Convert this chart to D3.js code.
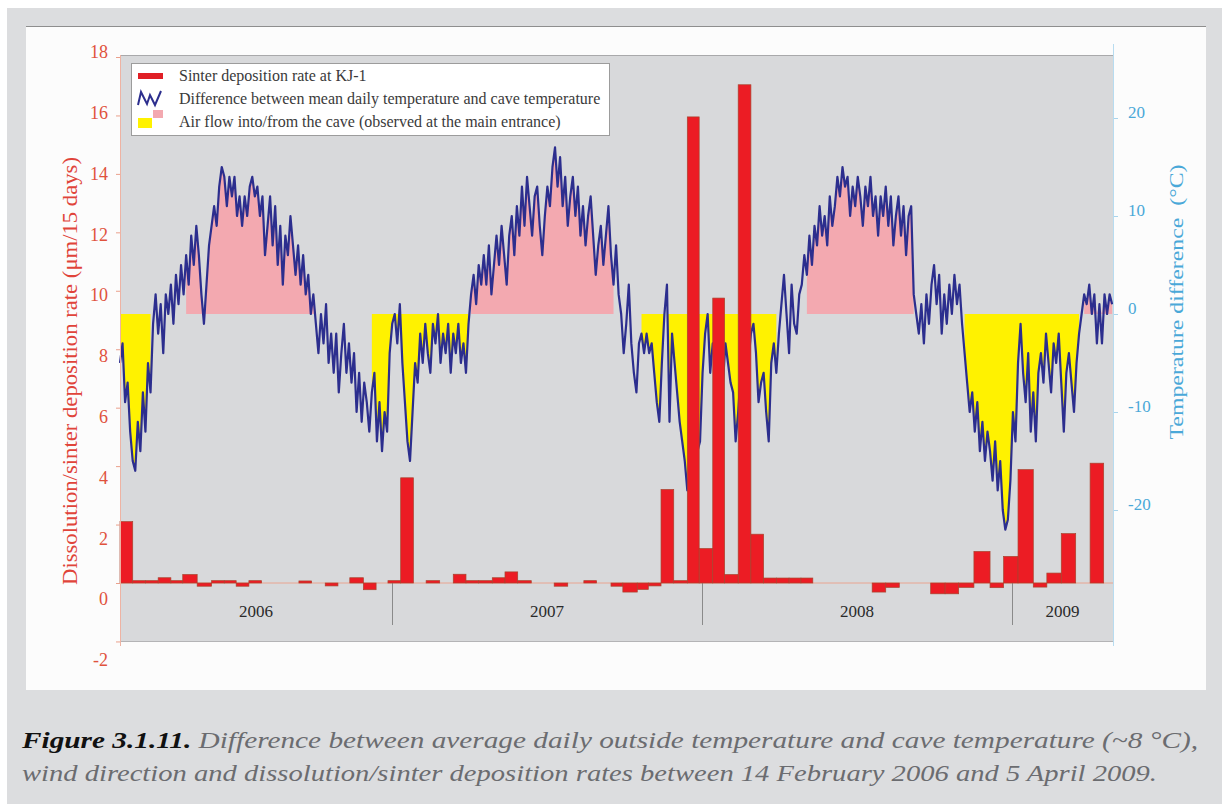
<!DOCTYPE html>
<html>
<head>
<meta charset="utf-8">
<script src="https://cdn.jsdelivr.net/npm/d3@7"></script>
<style>
body { margin: 0; background: #fff; }
svg { display: block; font-family: "Liberation Serif", "Times New Roman", serif; }
</style>
</head>
<body>
<svg width="1222" height="804"></svg>
<script>
// record runs from 14 Feb 2006, daily temperature difference read every 3 days
var startDate = "2006-02-14";
var endDate = "2009-04-30";
var tempStep = 3;
var tempValues = [
  -5,-3,-9,-7,-12,-15,-16,-11,-14,-8,
  -12,-5,-8,-1,2,-2,1,-4,2,0,
  3,-1,4,1,5,2,6,3,8,5,
  9,6,2,-1,3,7,9,11,9,13,
  15,14,11,14,12,14,10,12,9,12,
  10,13,14,12,13,10,12,6,9,12,
  7,11,5,9,3,8,6,10,7,4,
  7,3,6,2,4,0,2,-1,-4,0,
  -3,1,-5,-2,-6,-2,-8,-4,-1,-6,
  -3,-7,-4,-10,-6,-11,-7,-9,-12,-8,
  -6,-13,-9,-14,-10,-12,-4,
  -1,0,-3,1,-5,-9,-13,-15,-10,-5,
  -7,-2,-5,-1,-4,-6,-1,-3,0,-5,
  -2,-4,-1,-6,-2,-4,-1,-5,-3,-6,
  -1,2,4,1,5,3,6,3,7,2,
  5,8,5,9,6,3,8,10,6,11,
  8,13,9,14,11,8,12,13,9,6,
  10,13,11,15,17,13,16,11,14,9,
  12,14,10,13,8,11,7,10,12,8,
  4,7,9,5,8,11,6,3,7,2,
  0,-4,-1,3,-3,-6,-8,-3,-2,-4,
  -2,-4,-3,-6,-9,-11,-5,0,3,-11,
  -2,-5,-8,-11,-13,-15,-18,-16,-12,-9,
  -14,-13,
  -6,-2,0,-6,-3,-5,-8,-4,-7,-3,
  -5,-7,-8,-13,-10,-6,-3,-1,-5,-2,
  -1,-4,-9,-7,-6,-10,-13,-5,-3,-6,
  -2,1,4,0,-4,3,-1,-2,2,3,
  6,4,8,5,9,7,11,8,10,7,
  12,9,11,14,12,15,13,14,10,13,
  11,14,12,9,13,11,14,10,12,8,
  12,10,13,9,12,7,10,12,8,11,
  6,10,11,2,0,-2,1,-3,2,-1,
  3,5,1,4,-2,2,-1,3,0,4,
  1,3,-1,-4,-7,-10,-8,-12,-9,-14,
  -11,-15,-12,-14,-17,-13,-18,-15,-20,-22,
  -21,-17,
  -10,-13,-5,-1,-6,-9,-4,-12,-8,-13,
  -6,-4,-7,-2,-5,-8,-3,-5,-2,-7,
  -12,-6,-4,-7,-10,-5,-2,0,2,1,
  3,0,2,-3,1,-3,2,0,2,1
];

// sinter sampling periods (day offsets from start; last entry closes the last period)
var sinterStart = [0,15,30,45,60,74,91,108,123,137,152,167,211,226,242,257,271,287,302,316,
  331,346,361,377,393,408,423,439,454,469,485,512,528,547,562,579,593,610,623,638,
  653,669,683,699,713,729,744,759,774,789,803,817,887,903,919,956,973,989,1007,1026,
  1042,1059,1077,1093,1110,1127,1144,1160];
var sinterValues = [2.1,0.08,0.08,0.18,0.08,0.29,-0.11,0.08,0.08,-0.11,0.08,null,0.07,null,-0.1,null,0.18,-0.23,null,0.08,
  3.6,null,0.08,null,0.3,0.08,0.08,0.18,0.38,0.08,null,-0.11,null,0.08,null,-0.11,-0.31,-0.22,-0.1,3.2,
  0.08,15.95,1.18,9.75,0.29,17.05,1.67,0.17,0.17,0.17,0.17,null,-0.31,-0.15,null,-0.37,-0.37,-0.15,1.08,-0.16,
  0.91,3.88,-0.14,0.34,1.69,null,4.1];

// observed air flow at the main entrance: 1 = out of the cave (pink), -1 = into the cave (yellow)
var airflowStart = [0,77,297,413,613,808,994,1135];
var airflowEnd   = [38,233,413,584,776,938,1132,1171];
var airflowDir   = [-1,1,-1,1,-1,1,-1,1];

var rateTicks = [-2,0,2,4,6,8,10,12,14,16,18];
var tempTicks = [-20,-10,0,10,20];
var years = [2006,2007,2008,2009];

var svg = d3.select("svg");
var parse = d3.utcParse("%Y-%m-%d");
var t0 = parse(startDate), t1 = parse(endDate);
function dayDate(d) { return d3.utcDay.offset(t0, d); }

var plotL = 120, plotR = 1113, plotT = 55, plotB = 641;

var x = d3.scaleUtc().domain([t0, t1]).range([plotL, plotR]);
var yRate = d3.scaleLinear().domain([0, 18]).range([583, 57]);
var yRateLabel = d3.scaleLinear().domain([-2, 18]).range([660, 52]);
var yTemp = d3.scaleLinear().domain([-20, 20]).range([510, 118]);

var rateColor = "#e0523c", tempAxisColor = "#4aa8d8";
var plain = function(d) { return String(d); };

// backgrounds
svg.append("rect").attr("x", 7).attr("y", 8).attr("width", 1215).attr("height", 796).attr("fill", "#dcdddf");
svg.append("rect").attr("x", 26).attr("y", 26).attr("width", 1180).attr("height", 664).attr("fill", "#fcfcfc");
svg.append("line").attr("x1", 26).attr("x2", 1206).attr("y1", 26.5).attr("y2", 26.5).attr("stroke", "#8e8e8e");
svg.append("rect").attr("x", plotL).attr("y", plotT).attr("width", plotR - plotL).attr("height", plotB - plotT).attr("fill", "#d8d9db");
svg.append("line").attr("x1", plotL).attr("x2", plotR).attr("y1", plotT + 0.5).attr("y2", plotT + 0.5).attr("stroke", "#a9a9ab");
svg.append("line").attr("x1", plotL).attr("x2", plotR).attr("y1", plotB + 0.5).attr("y2", plotB + 0.5).attr("stroke", "#b4b4b6");

var temps = tempValues.map(function(v, i) { return { day: i * tempStep, v: v }; });

// air flow fills
var area = d3.area()
    .x(function(d) { return x(dayDate(d.day)); })
    .y0(yTemp(0));
airflowStart.forEach(function(s, i) {
  var e = airflowEnd[i], dir = airflowDir[i];
  var pts = temps.filter(function(d) { return d.day >= s && d.day <= e; });
  area.y1(function(d) { return yTemp(dir > 0 ? Math.max(d.v, 0) : Math.min(d.v, 0)); });
  svg.append("path")
    .attr("d", area(pts))
    .attr("fill", dir > 0 ? "#f3a9b0" : "#fff200");
});

// temperature difference line
var line = d3.line()
    .x(function(d) { return x(dayDate(d.day)); })
    .y(function(d) { return yTemp(d.v); });
svg.append("path")
  .attr("d", line(temps))
  .attr("fill", "none")
  .attr("stroke", "#2c2e8e")
  .attr("stroke-width", 2.2)
  .attr("stroke-linejoin", "round");

// zero line of the rates
svg.append("line").attr("x1", plotL).attr("x2", plotR).attr("y1", yRate(0)).attr("y2", yRate(0))
  .attr("stroke", "#e9a490").attr("stroke-width", 1);

// year dividers and labels
years.slice(1).forEach(function(yr) {
  var xx = Math.round(x(parse(yr + "-01-01"))) + 0.5;
  svg.append("line").attr("x1", xx).attr("x2", xx).attr("y1", yRate(0)).attr("y2", 625)
    .attr("stroke", "#8a8a8a").attr("stroke-width", 1);
});
years.forEach(function(yr) {
  var a = Math.max(x(parse(yr + "-01-01")), plotL);
  var b = Math.min(x(parse((yr + 1) + "-01-01")), plotR);
  svg.append("text").attr("x", (a + b) / 2).attr("y", 617)
    .attr("text-anchor", "middle").attr("font-size", 17).attr("fill", "#2a2a2a")
    .text(yr);
});

// sinter bars
var bars = sinterValues.map(function(v, i) { return { s: sinterStart[i], e: sinterStart[i + 1], v: v }; })
  .filter(function(d) { return d.v !== null; });
svg.append("g").selectAll("rect")
  .data(bars)
  .enter().append("rect")
  .attr("x", function(d) { return x(dayDate(d.s)); })
  .attr("width", function(d) { return x(dayDate(d.e)) - x(dayDate(d.s)); })
  .attr("y", function(d) { return yRate(Math.max(d.v, 0)); })
  .attr("height", function(d) { return Math.abs(yRate(d.v) - yRate(0)); })
  .attr("fill", "#ec1c24")
  .attr("stroke", "#a8442e")
  .attr("stroke-width", 0.7);

// left axis: tick marks on the data scale, labels as printed
var leftTicks = svg.append("g").attr("transform", "translate(" + plotL + ",0)")
  .call(d3.axisLeft(yRate).tickValues(rateTicks).tickSize(4).tickFormat(""));
leftTicks.select(".domain").remove();
leftTicks.selectAll("line").attr("stroke", "#eaa08c");
svg.append("line").attr("x1", plotL + 0.5).attr("x2", plotL + 0.5).attr("y1", plotT).attr("y2", 646)
  .attr("stroke", "#eeb3a3");
var leftLabels = svg.append("g").attr("transform", "translate(108,0)")
  .call(d3.axisLeft(yRateLabel).tickValues(rateTicks).tickSize(0).tickPadding(0).tickFormat(plain))
  .attr("font-family", null);
leftLabels.select(".domain").remove();
leftLabels.selectAll("text").attr("font-size", 18).attr("fill", rateColor);

// right axis
var rightAxis = svg.append("g").attr("transform", "translate(" + plotR + ",0)")
  .call(d3.axisRight(yTemp).tickValues(tempTicks).tickSize(5).tickPadding(10).tickFormat(plain))
  .attr("font-family", null);
rightAxis.select(".domain").remove();
rightAxis.selectAll("line").attr("stroke", "#a9d4ec");
rightAxis.selectAll("text").attr("font-size", 17).attr("fill", tempAxisColor).attr("dy", "-0.05em");
svg.append("line").attr("x1", plotR + 0.5).attr("x2", plotR + 0.5).attr("y1", 44).attr("y2", 646)
  .attr("stroke", "#b8dcf0");

// axis titles
svg.append("text").attr("transform", "translate(77,371) rotate(-90)")
  .attr("text-anchor", "middle").attr("font-size", 21).attr("fill", "#e0443a")
  .attr("textLength", 428).attr("lengthAdjust", "spacingAndGlyphs")
  .text("Dissolution/sinter deposition rate (\u03bcm/15 days)");
svg.append("text").attr("transform", "translate(1183,302) rotate(-90)")
  .attr("text-anchor", "middle").attr("font-size", 19).attr("fill", tempAxisColor)
  .attr("textLength", 275).attr("lengthAdjust", "spacingAndGlyphs")
  .attr("xml:space", "preserve")
  .text("Temperature difference  (\u00b0C)");

// legend
var lg = svg.append("g");
lg.append("rect").attr("x", 131.5).attr("y", 63.5).attr("width", 478).attr("height", 72)
  .attr("fill", "#ffffff").attr("stroke", "#9c9c9c");
lg.append("rect").attr("x", 138).attr("y", 73).attr("width", 25).attr("height", 6).attr("fill", "#e01f26");
lg.append("path").attr("d", "M138,105 L141,92 L147,104 L150,95 L155,105 L161,91")
  .attr("fill", "none").attr("stroke", "#2c2e8e").attr("stroke-width", 2);
lg.append("rect").attr("x", 153).attr("y", 110).attr("width", 10).attr("height", 8).attr("fill", "#f3a9b0");
lg.append("rect").attr("x", 138).attr("y", 118).attr("width", 14).attr("height", 10).attr("fill", "#fff200");
var legendText = ["Sinter deposition rate at KJ-1",
  "Difference between mean daily temperature and cave temperature",
  "Air flow into/from the cave (observed at the main entrance)"];
legendText.forEach(function(t, i) {
  lg.append("text").attr("x", 179).attr("y", 81 + i * 23)
    .attr("font-size", 16).attr("fill", "#3a3a3a").text(t);
});

// caption
var capFont = "Liberation Serif, DejaVu Serif, serif";
var cap1 = svg.append("text").attr("x", 22).attr("y", 748).attr("font-size", 23).attr("font-style", "italic")
  .attr("font-family", capFont)
  .attr("textLength", 1176).attr("lengthAdjust", "spacingAndGlyphs");
cap1.append("tspan").attr("font-weight", "bold").attr("fill", "#111").text("Figure 3.1.11.");
cap1.append("tspan").attr("fill", "#6b6c70")
  .text(" Difference between average daily outside temperature and cave temperature (~8 \u00b0C),");
svg.append("text").attr("x", 22).attr("y", 781).attr("font-size", 23).attr("font-style", "italic")
  .attr("font-family", capFont).attr("fill", "#6b6c70")
  .attr("textLength", 1135).attr("lengthAdjust", "spacingAndGlyphs")
  .text("wind direction and dissolution/sinter deposition rates between 14 February 2006 and 5 April 2009.");
</script>
</body>
</html>
